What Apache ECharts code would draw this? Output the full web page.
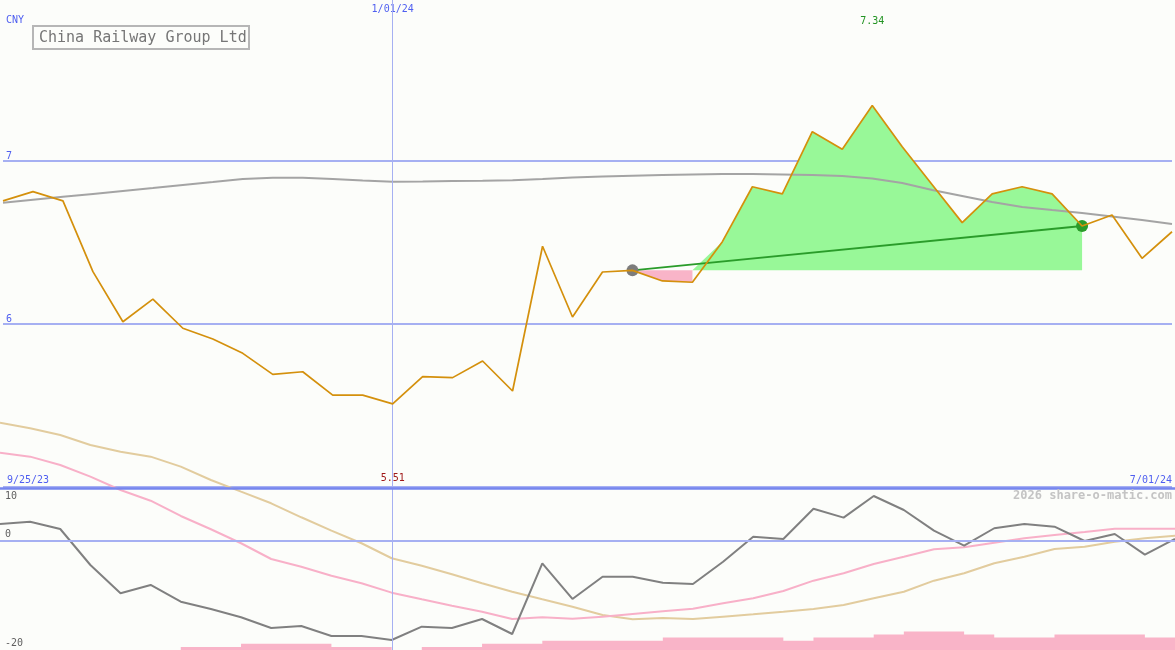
<!DOCTYPE html>
<html>
<head>
<meta charset="utf-8">
<script src="https://cdn.jsdelivr.net/npm/echarts@6/dist/echarts.min.js"></script>
<style>
html,body{margin:0;padding:0;background:#fcfdfa;}
#chart{width:1175px;height:650px;}
</style>
</head>
<body>
<div id="chart"></div>
<script>
// ---- data (weekly) ----
const dates = ['10/02/23','10/09/23','10/16/23','10/23/23','10/30/23','11/06/23','11/13/23','11/20/23','11/27/23','12/04/23',
  '12/11/23','12/18/23','12/25/23','1/01/24','1/08/24','1/15/24','1/22/24','1/29/24','2/05/24','2/12/24',
  '2/19/24','2/26/24','3/04/24','3/11/24','3/18/24','3/25/24','4/01/24','4/08/24','4/15/24','4/22/24',
  '4/29/24','5/06/24','5/13/24','5/20/24','5/27/24','6/03/24','6/10/24','6/17/24','6/24/24','7/01/24'];
const price = [6.755,6.812,6.755,6.321,6.014,6.153,5.974,5.908,5.820,5.691,
  5.707,5.564,5.564,5.51,5.677,5.671,5.773,5.589,6.477,6.043,
  6.319,6.329,6.264,6.256,6.505,6.842,6.798,7.180,7.072,7.34,
  7.088,6.854,6.622,6.798,6.842,6.798,6.601,6.669,6.403,6.566];
const priceMA = [6.744,6.762,6.780,6.798,6.816,6.834,6.853,6.871,6.890,6.898,
  6.898,6.890,6.880,6.873,6.874,6.877,6.879,6.882,6.890,6.899,
  6.905,6.910,6.914,6.917,6.920,6.920,6.917,6.914,6.908,6.893,
  6.865,6.822,6.785,6.748,6.718,6.699,6.681,6.660,6.638,6.613];
const momentum = [3.2,3.64,2.26,-4.53,-9.87,-8.30,-11.45,-12.83,-14.40,-16.42,
  -16.04,-17.92,-17.92,-18.68,-16.17,-16.42,-14.72,-17.55,-4.21,-10.94,
  -6.74,-6.74,-7.87,-8.11,-3.91,0.81,0.38,6.09,4.40,8.49,
  5.85,1.94,-0.89,2.40,3.21,2.70,0,1.32,-2.58,0.38];
const momFast = [16.66,15.91,14.34,12.13,9.62,7.60,4.72,2.21,-0.43,-3.40,
  -4.85,-6.55,-7.98,-9.75,-11.0,-12.21,-13.34,-14.72,-14.40,-14.66,
  -14.28,-13.77,-13.26,-12.77,-11.75,-10.81,-9.43,-7.49,-6.09,-4.34,
  -2.96,-1.57,-1.19,-0.32,0.51,1.13,1.70,2.32,2.32,2.32];
const momSlow = [22.32,21.26,20.0,18.11,16.85,15.91,14.02,11.51,9.30,7.11,
  4.47,1.94,-0.43,-3.26,-4.66,-6.28,-7.98,-9.57,-11.0,-12.40,
  -13.96,-14.77,-14.53,-14.72,-14.28,-13.83,-13.34,-12.83,-12.08,-10.81,
  -9.57,-7.49,-6.09,-4.21,-2.96,-1.51,-1.08,-0.13,0.51,1.0];
const volume = [null,null,null,null,null,null,1,1,2,2,
  2,1,1,0,1,1,2,2,3,3,
  3,3,4,4,4,4,3,4,4,5,
  6,6,5,4,4,5,5,5,4,4];
const trendStart = 21, trendEnd = 36;
const priceTicks = [6, 7];
const oscTicks = [10, 0, -20];
const yearMark = '1/01/24';
const startLabel = '9/25/23', endLabel = '7/01/24';
const title = 'China Railway Group Ltd';
const currency = 'CNY';
const credit = '2026 share-o-matic.com';

// ---- derived series ----
const base = price[trendStart];
const greenFill = price.map((v, i) => (i >= trendStart + 2 && i <= trendEnd) ? Math.max(v, base) : null);
const pinkFill = price.map((v, i) => (i >= trendStart && i <= trendStart + 2) ? Math.min(v, base) : null);
const trend = price.map((v, i) => i === trendStart ? {value: v, itemStyle: {color: '#7c7c7c'}}
  : i === trendEnd ? {value: v, itemStyle: {color: '#2a9c2a'}} : null);
const blanks = dates.map(() => null);

const MONO = '"DejaVu Sans Mono", monospace';
const BLUE = '#4f5ff0';
const LIGHT = '#a6b0f2';
const BORDER = '#7686ee';
const GRAYTXT = '#606060';
const CLEAR = 'rgba(0,0,0,0)';

const chart = echarts.init(document.getElementById('chart'), null, {renderer: 'canvas'});
const option = {
  backgroundColor: '#fcfdfa',
  animation: false,
  grid: [
    {left: 0, right: 0, top: 0, height: 650},
    {left: 0, right: 0, top: 400, height: 250}
  ],
  xAxis: [
    {gridIndex: 0, type: 'category', data: dates, boundaryGap: false, position: 'top',
      axisLine: {show: false}, axisTick: {show: false}, splitLine: {show: false},
      axisLabel: {inside: true, interval: 0, margin: 4, color: BLUE, fontSize: 10, fontFamily: MONO,
        formatter: v => v === yearMark ? v : ''}},
    {gridIndex: 1, type: 'category', data: dates, boundaryGap: false, show: false}
  ],
  yAxis: [
    {gridIndex: 0, type: 'value', min: 4, max: 4 + 650 / 163, interval: 1,
      axisLine: {show: false}, axisTick: {show: false},
      axisLabel: {inside: true, verticalAlign: 'bottom', margin: 3, color: BLUE, fontSize: 10, fontFamily: MONO,
        showMinLabel: false, showMaxLabel: false,
        formatter: v => priceTicks.includes(v) ? String(v) : ''},
      splitLine: {show: true, showMinLine: false, showMaxLine: false,
        lineStyle: {color: LIGHT, width: 2}}},
    {gridIndex: 1, type: 'value', min: -20.57, max: 26.6, show: false, splitLine: {show: false}},
    {gridIndex: 1, type: 'value', min: 0, max: 80.6, show: false, splitLine: {show: false}}
  ],
  series: [
    {name: 'refTop', type: 'line', xAxisIndex: 0, yAxisIndex: 0, data: blanks, z: 1, silent: true,
      markLine: {silent: true, symbol: ['none', 'none'], animation: false,
        lineStyle: {color: LIGHT, width: 1, type: 'solid'}, label: {show: false},
        data: [{xAxis: yearMark}]}},
    {name: 'pinkFill', type: 'line', xAxisIndex: 0, yAxisIndex: 0, data: pinkFill, z: 2,
      symbol: 'none', lineStyle: {width: 0}, areaStyle: {color: '#f9b4c8', opacity: 1, origin: base}},
    {name: 'greenFill', type: 'line', xAxisIndex: 0, yAxisIndex: 0, data: greenFill, z: 2,
      symbol: 'none', lineStyle: {width: 0}, areaStyle: {color: '#98f898', opacity: 1, origin: base}},
    {name: 'priceMA', type: 'line', xAxisIndex: 0, yAxisIndex: 0, data: priceMA, z: 3,
      symbol: 'none', lineStyle: {color: '#a4a4a4', width: 2}},
    {name: 'trend', type: 'line', xAxisIndex: 0, yAxisIndex: 0, data: trend, z: 4, connectNulls: true,
      symbol: 'circle', symbolSize: 12, showSymbol: true,
      lineStyle: {color: '#2a9c2a', width: 2}},
    {name: 'price', type: 'line', xAxisIndex: 0, yAxisIndex: 0, data: price, z: 5,
      symbol: 'none', lineStyle: {color: '#d4900c', width: 1.7},
      markPoint: {symbol: 'circle', symbolSize: 0, animation: false,
        label: {show: true, position: 'inside', fontSize: 10, fontFamily: MONO,
          formatter: p => Number(p.value).toFixed(2)},
        data: [
          {type: 'max', label: {offset: [0, -84], color: '#229322'}},
          {type: 'min', label: {offset: [0, 75], color: '#a01818'}}
        ]}},
    {name: 'refBottom', type: 'line', xAxisIndex: 1, yAxisIndex: 1, data: blanks, z: 1, silent: true,
      itemStyle: {color: LIGHT},
      markLine: {silent: true, symbol: ['none', 'none'], animation: false,
        lineStyle: {color: LIGHT, width: 1, type: 'solid'},
        label: {fontSize: 10, fontFamily: MONO},
        data: [
          {yAxis: oscTicks[1], lineStyle: {color: LIGHT, width: 2, type: 'solid'},
            label: {show: true, position: 'insideStartTop', formatter: String(oscTicks[1]), color: GRAYTXT, distance: [5, 2]}},
          {yAxis: oscTicks[2], lineStyle: {color: CLEAR, width: 1},
            label: {show: true, position: 'insideStartTop', formatter: String(oscTicks[2]), color: GRAYTXT, distance: [5, -1]}},
          {yAxis: oscTicks[0], lineStyle: {color: BORDER, width: 2.5, type: 'solid'},
            label: {show: true, position: 'insideStartBottom', formatter: String(oscTicks[0]), color: GRAYTXT, distance: [5, 3]}},
          {yAxis: oscTicks[0] + 0.001, lineStyle: {color: CLEAR, width: 1},
            label: {show: true, position: 'insideStartTop', formatter: startLabel, color: BLUE, distance: [7, 3]}},
          {yAxis: oscTicks[0] + 0.002, lineStyle: {color: CLEAR, width: 1},
            label: {show: true, position: 'insideEndTop', formatter: endLabel, color: BLUE, distance: [3, 3]}}
        ]}},
    {name: 'volume', type: 'line', xAxisIndex: 1, yAxisIndex: 2, data: volume, z: 2, step: 'end',
      symbol: 'none', lineStyle: {width: 0}, areaStyle: {color: '#f9b4c8', opacity: 1}},
    {name: 'momSlow', type: 'line', xAxisIndex: 1, yAxisIndex: 1, data: momSlow, z: 3,
      symbol: 'none', lineStyle: {color: '#e2cc9e', width: 2}},
    {name: 'momFast', type: 'line', xAxisIndex: 1, yAxisIndex: 1, data: momFast, z: 3,
      symbol: 'none', lineStyle: {color: '#f8b0c8', width: 2}},
    {name: 'momentum', type: 'line', xAxisIndex: 1, yAxisIndex: 1, data: momentum, z: 4,
      symbol: 'none', lineStyle: {color: '#808080', width: 2}}
  ],
  graphic: [
    {type: 'text', left: 6, top: 15, style: {text: currency, font: '10px ' + MONO, fill: BLUE}},
    {type: 'group', left: 32, top: 25, children: [
      {type: 'rect', shape: {x: 0, y: 0, width: 216, height: 23},
        style: {fill: '#fcfdfa', stroke: '#b6b6b6', lineWidth: 2}},
      {type: 'text', x: 6, y: 12, style: {text: title, font: '15px ' + MONO, fill: '#767676', verticalAlign: 'middle'}}
    ]},
    {type: 'text', right: 3, top: 490, z: 10, style: {text: credit, font: 'bold 12px ' + MONO, fill: '#c4c4c4'}}
  ]
};
chart.setOption(option);
</script>
</body>
</html>
